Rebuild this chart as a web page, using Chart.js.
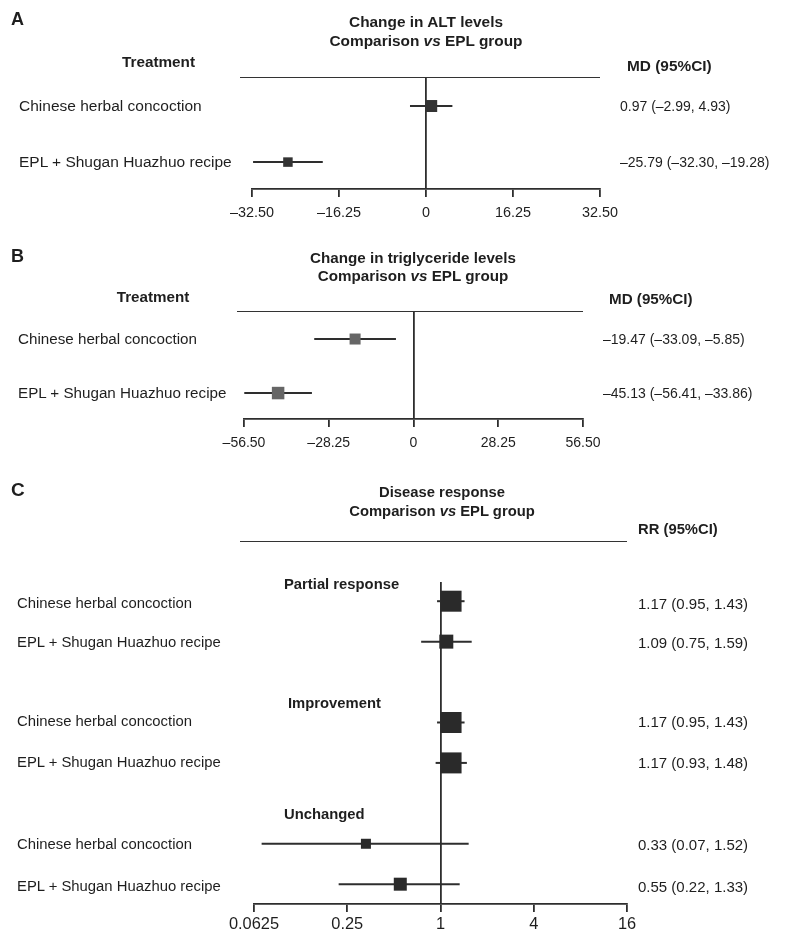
<!DOCTYPE html>
<html><head><meta charset="utf-8">
<script src="https://cdn.jsdelivr.net/npm/chart.js@4.4.0/dist/chart.umd.min.js"></script>
<style>
html,body{margin:0;padding:0;background:#fff;}
#wrap{position:relative;width:787px;height:945px;overflow:hidden;font-family:"Liberation Sans",Arial,Helvetica,sans-serif;color:#1e1e1e;}
canvas{position:absolute;left:0;}
.t{position:absolute;line-height:1;white-space:nowrap;transform:translateY(-50%);}
.c{transform:translate(-50%,-50%);text-align:center;}
.b{font-weight:bold;}
.hl{position:absolute;height:0;border-top:1.8px solid #333;}
</style></head><body><div id="wrap">
<canvas id="cA" width="787" height="240" style="top:0px;width:787px;height:240px"></canvas>
<canvas id="cB" width="787" height="230" style="top:240px;width:787px;height:230px"></canvas>
<canvas id="cC" width="787" height="475" style="top:470px;width:787px;height:475px"></canvas>
</div>
<script>
// ---------------- DATA ----------------
const treatments = ["Chinese herbal concoction", "EPL + Shugan Huazhuo recipe"];

// Panel A: change in ALT levels (MD)
const altMD   = [0.97, -25.79];
const altLow  = [-2.99, -32.30];
const altHigh = [4.93, -19.28];
const altTicks = [-32.5, -16.25, 0, 16.25, 32.5];
const altTickLabels = ["–32.50", "–16.25", "0", "16.25", "32.50"];

// Panel B: change in triglyceride levels (MD)
const tgMD   = [-19.47, -45.13];
const tgLow  = [-33.09, -56.41];
const tgHigh = [-5.85, -33.86];
const tgTicks = [-56.5, -28.25, 0, 28.25, 56.5];
const tgTickLabels = ["–56.50", "–28.25", "0", "28.25", "56.50"];

// Panel C: disease response (RR), two treatments per group
const responseGroups = ["Partial response", "Improvement", "Unchanged"];
const rrEst  = [1.17, 1.09, 1.17, 1.17, 0.33, 0.55];
const rrLow  = [0.95, 0.75, 0.95, 0.93, 0.07, 0.22];
const rrHigh = [1.43, 1.59, 1.43, 1.48, 1.52, 1.33];
const rrTicks = [0.0625, 0.25, 1, 4, 16];
const rrTickLabels = ["0.0625", "0.25", "1", "4", "16"];

// ---------------- STYLE ----------------
const FONT = '"Liberation Sans", Arial, Helvetica, sans-serif';
const LINE = '#2e2e2e';
const sizesA = [12, 9.5];
const sizesB = [11, 12.5];
const sizesC = [21, 14, 21, 21, 10, 13];

const fmt = v => (v < 0 ? '–' : '') + Math.abs(v).toFixed(2);
const ciText = (e, l, h) => `${fmt(e)} (${fmt(l)}, ${fmt(h)})`;

const wrap = document.getElementById('wrap');
function txt(x, y, html, size, cls) {
  const d = document.createElement('div');
  d.className = 't ' + (cls || '');
  d.style.left = x + 'px';
  d.style.top = y + 'px';
  d.style.fontSize = size + 'px';
  d.innerHTML = html;
  wrap.appendChild(d);
}
function hline(x1, x2, y) {
  const d = document.createElement('div');
  d.className = 'hl';
  d.style.left = x1 + 'px';
  d.style.width = (x2 - x1) + 'px';
  d.style.top = (y - 0.9) + 'px';
  wrap.appendChild(d);
}

function forest(id, o) {
  const ds = [];
  o.est.forEach((e, i) => {
    ds.push({
      data: [{x: o.low[i], y: o.rows[i]}, {x: o.high[i], y: o.rows[i]}],
      showLine: true, borderColor: LINE, borderWidth: 2,
      pointRadius: 0, order: 2
    });
  });
  ds.push({
    data: o.est.map((e, i) => ({x: e, y: o.rows[i]})),
    pointStyle: 'rect',
    pointRadius: o.sizes.map(s => s / Math.SQRT2),
    backgroundColor: o.color, borderWidth: 0, order: 1
  });
  return new Chart(document.getElementById(id), {
    type: 'scatter',
    data: {datasets: ds},
    options: {
      responsive: false, animation: false, events: [],
      layout: {padding: o.pad},
      plugins: {legend: {display: false}, tooltip: {enabled: false}},
      scales: {
        x: {
          type: o.type, min: o.min, max: o.max,
          afterBuildTicks: s => { s.ticks = o.ticks.map(v => ({value: v})); },
          afterFit: s => { s.height = 40; },
          ticks: {
            callback: (v, i) => o.tickLabels[i],
            font: {family: FONT, size: o.tickSize}, color: '#1e1e1e',
            padding: o.tickPad, maxRotation: 0, autoSkip: false
          },
          grid: {
            color: c => (c.tick && Math.abs(c.tick.value - o.ref) < 1e-9) ? LINE : 'rgba(0,0,0,0)',
            lineWidth: 1.8, drawTicks: true, tickLength: 8,
            tickColor: LINE, tickWidth: 1.8
          },
          border: {display: true, color: LINE, width: 1.8}
        },
        y: {type: 'linear', display: false, reverse: true, min: o.ymin, max: o.ymax}
      }
    }
  });
}

// ---------- Panel A ----------
forest('cA', {
  est: altMD, low: altLow, high: altHigh, rows: [0, 1], sizes: sizesA, color: '#333333',
  type: 'linear', min: -32.5, max: 32.5, ticks: altTicks, tickLabels: altTickLabels,
  ref: 0, tickSize: 14.4, tickPad: 7,
  ymin: -0.5, ymax: 1.48,
  pad: {left: 252, right: 787 - 600, top: 78, bottom: 240 - 189 - 40}
});
txt(11, 19, 'A', 18, 'b');
txt(426, 22, 'Change in ALT levels', 15.4, 'b c');
txt(426, 41, 'Comparison <i>vs</i> EPL group', 15.4, 'b c');
txt(158.5, 62, 'Treatment', 15.3, 'b c');
txt(627, 66, 'MD (95%CI)', 15.4, 'b');
hline(240, 600, 78);
[106, 162].forEach((y, i) => {
  txt(19, y, treatments[i], 15.5);
  txt(620, y, ciText(altMD[i], altLow[i], altHigh[i]), 14);
});

// ---------- Panel B ----------
forest('cB', {
  est: tgMD, low: tgLow, high: tgHigh, rows: [0, 1], sizes: sizesB, color: '#666666',
  type: 'linear', min: -56.5, max: 56.5, ticks: tgTicks, tickLabels: tgTickLabels,
  ref: 0, tickSize: 14, tickPad: 8,
  ymin: -0.5, ymax: 1.48,
  pad: {left: 244, right: 787 - 583, top: 312 - 240, bottom: 230 - (419 - 240) - 40}
});
txt(11, 256, 'B', 18, 'b');
txt(413, 258, 'Change in triglyceride levels', 15.2, 'b c');
txt(413, 276, 'Comparison <i>vs</i> EPL group', 15.2, 'b c');
txt(153, 297, 'Treatment', 15.2, 'b c');
txt(609, 299, 'MD (95%CI)', 15.2, 'b');
hline(237, 583, 312);
[339, 393].forEach((y, i) => {
  txt(18, y, treatments[i], 15.2);
  txt(603, y, ciText(tgMD[i], tgLow[i], tgHigh[i]), 14);
});

// ---------- Panel C ----------
const rowsC = [];
responseGroups.forEach((g, gi) => treatments.forEach((t, ti) => rowsC.push(gi * 3 + ti)));
forest('cC', {
  est: rrEst, low: rrLow, high: rrHigh, rows: rowsC, sizes: sizesC, color: '#2a2a2a',
  type: 'logarithmic', min: 0.0625, max: 16, ticks: rrTicks, tickLabels: rrTickLabels,
  ref: 1, tickSize: 16.4, tickPad: 3,
  ymin: -0.475, ymax: 7.49,
  pad: {left: 254, right: 787 - 627, top: 582 - 470, bottom: 475 - (904 - 470) - 40}
});
txt(11, 489, 'C', 19, 'b');
txt(442, 492, 'Disease response', 14.8, 'b c');
txt(442, 511, 'Comparison <i>vs</i> EPL group', 14.8, 'b c');
txt(638, 529, 'RR (95%CI)', 14.8, 'b');
hline(240, 627, 542);
const groupY = [584, 703, 814];
const groupX = [284, 288, 284];
responseGroups.forEach((g, gi) => txt(groupX[gi], groupY[gi], g, 14.8, 'b'));
const rowYC = [603, 641.5, 721, 762, 844, 886];
rrEst.forEach((e, i) => {
  txt(17, rowYC[i], treatments[i % 2], 14.85);
  txt(638, rowYC[i], ciText(e, rrLow[i], rrHigh[i]), 15);
});
</script>
</body></html>
